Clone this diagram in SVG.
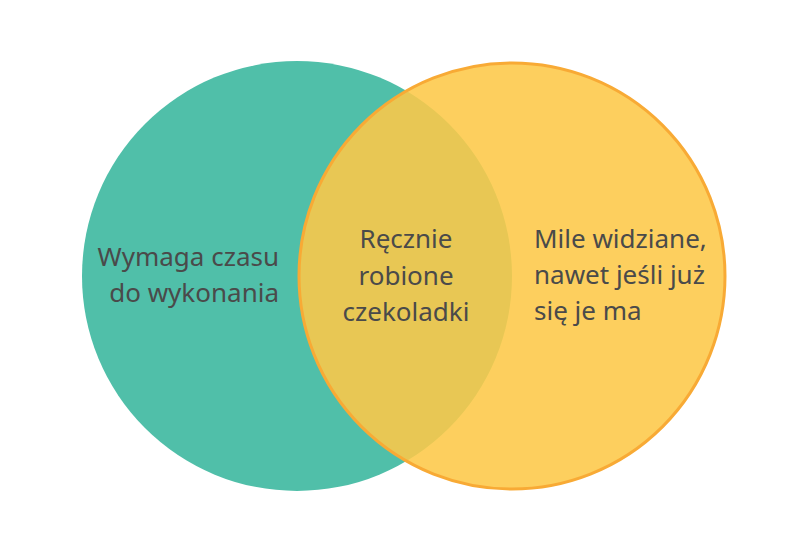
<svg xmlns="http://www.w3.org/2000/svg" width="808" height="556" viewBox="0 0 808 556">
  <style>
    .lbl { font-family: "Noto Sans", "Open Sans", sans-serif; font-size: 26px; fill: #4a4a4a; }
  </style>
  <rect width="808" height="556" fill="#ffffff"/>
  <g id="set-left">
    <circle cx="297" cy="276" r="215" fill="#50bfa9"/>
  </g>
  <g id="set-right">
    <circle cx="512" cy="276" r="213" fill="#fdc848" fill-opacity="0.88" stroke="#f8aa35" stroke-width="3"/>
  </g>
  <g id="label-left">
    <text class="lbl" x="279" y="266" text-anchor="end">Wymaga czasu</text>
    <text class="lbl" x="279" y="302" text-anchor="end">do wykonania</text>
  </g>
  <g id="label-center">
    <text class="lbl" x="406" y="248" text-anchor="middle">Ręcznie</text>
    <text class="lbl" x="406" y="285" text-anchor="middle">robione</text>
    <text class="lbl" x="406" y="321" text-anchor="middle">czekoladki</text>
  </g>
  <g id="label-right">
    <text class="lbl" x="534" y="248">Mile widziane,</text>
    <text class="lbl" x="534" y="284">nawet jeśli już</text>
    <text class="lbl" x="534" y="320">się je ma</text>
  </g>
  <g id="connectors"></g>
</svg>
